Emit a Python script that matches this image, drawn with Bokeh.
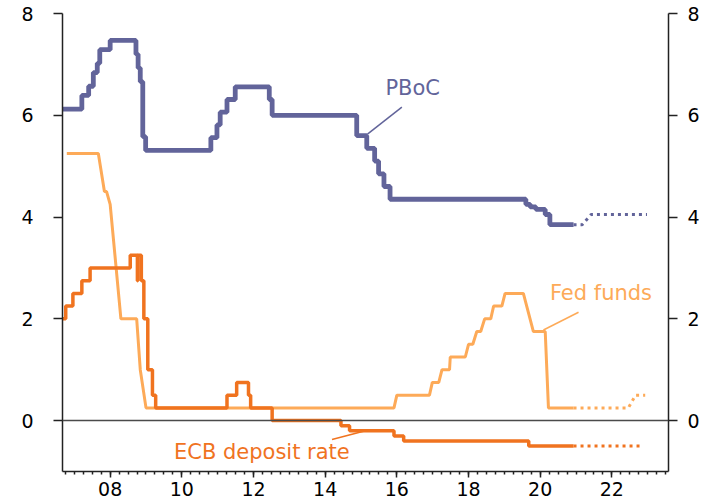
from bokeh.plotting import figure
from bokeh.models import Range1d, LinearAxis, FixedTicker, Span, Label
from bokeh.embed import file_html
from bokeh.resources import INLINE

# ---- data ----
pboc_x = [2006.67, 2007.21, 2007.40, 2007.53, 2007.64, 2007.71, 2008.00, 2008.72, 2008.78, 2008.84,
          2008.91, 2008.99, 2010.81, 2010.98, 2011.07, 2011.26, 2011.49, 2012.44, 2012.52, 2014.88,
          2015.16, 2015.38, 2015.49, 2015.64, 2015.81, 2019.60, 2019.72, 2019.88, 2020.14, 2020.27, 2020.93]
pboc_y = [6.12, 6.39, 6.57, 6.84, 7.02, 7.29, 7.47, 7.20, 6.93, 6.66,
          5.58, 5.31, 5.56, 5.81, 6.06, 6.31, 6.56, 6.31, 6.00, 5.60,
          5.35, 5.10, 4.85, 4.60, 4.35, 4.25, 4.20, 4.15, 4.05, 3.85, 3.85]
pboc_proj_x = [2020.93, 2021.17, 2021.42, 2022.98]
pboc_proj_y = [3.85, 3.85, 4.05, 4.05]

fed_x = [2006.79, 2007.67, 2007.84, 2007.90, 2008.00, 2008.30, 2008.74, 2008.84, 2009.00, 2015.92,
         2016.00, 2016.91, 2016.99, 2017.17, 2017.26, 2017.47, 2017.49, 2017.91, 2018.00, 2018.12,
         2018.23, 2018.34, 2018.45, 2018.62, 2018.70, 2018.93, 2019.02, 2019.53, 2019.81, 2020.14,
         2020.23, 2020.93]
fed_y = [5.25, 5.25, 4.50, 4.50, 4.25, 2.00, 2.00, 1.00, 0.25, 0.25,
         0.50, 0.50, 0.75, 0.75, 1.00, 1.00, 1.25, 1.25, 1.50, 1.50,
         1.75, 1.75, 2.00, 2.00, 2.25, 2.25, 2.50, 2.50, 1.75, 1.75,
         0.25, 0.25]
fed_proj_x = [2020.93, 2022.46, 2022.66, 2022.93]
fed_proj_y = [0.25, 0.25, 0.50, 0.50]

ecb_x = [2006.67, 2006.76, 2006.96, 2007.21, 2007.44, 2008.56, 2008.76, 2008.77, 2008.87, 2008.94,
         2009.05, 2009.18, 2009.27, 2011.26, 2011.53, 2011.86, 2011.92, 2012.52, 2014.44, 2014.68,
         2015.92, 2016.19, 2019.68, 2020.93]
ecb_y = [2.00, 2.25, 2.50, 2.75, 3.00, 3.25, 2.75, 3.25, 2.75, 2.00,
         1.00, 0.50, 0.25, 0.50, 0.75, 0.50, 0.25, 0.00, -0.10, -0.20,
         -0.30, -0.40, -0.50, -0.50]
ecb_proj_x = [2020.93, 2022.87]
ecb_proj_y = [-0.50, -0.50]

year_ticks = [2008, 2010, 2012, 2014, 2016, 2018, 2020, 2022]
year_labels = ["08", "10", "12", "14", "16", "18", "20", "22"]
y_ticks = [0, 2, 4, 6, 8]

# ---- styles ----
C_PBOC = "#62649A"
C_FED = "#FDAA58"
C_ECB = "#F0731F"
FONT = "DejaVu Sans"

p = figure(width=708, height=501, output_backend="svg", toolbar_location=None,
           x_range=Range1d(2006.67, 2023.58), y_range=Range1d(-1, 8),
           min_border_left=62, min_border_right=40, min_border_top=13, min_border_bottom=30)
p.outline_line_color = None
p.grid.visible = False
p.background_fill_color = "white"
p.border_fill_color = "white"

minor = [2006.75 + 0.25 * i for i in range(68) if 2006.75 + 0.25 * i < 2023.58]

xa = p.xaxis[0]
xa.ticker = FixedTicker(ticks=year_ticks, minor_ticks=minor)
xa.major_label_overrides = {t: l for t, l in zip(year_ticks, year_labels)}
xa.major_tick_in = 0
xa.major_tick_out = 6
xa.minor_tick_in = 0
xa.minor_tick_out = 3
xa.major_label_standoff = 4
xa.axis_line_color = "#222222"
xa.axis_line_width = 1.5
xa.major_tick_line_color = "#222222"
xa.major_tick_line_width = 1.5
xa.minor_tick_line_color = "#222222"
xa.minor_tick_line_width = 1.5
xa.major_label_text_font = FONT
xa.major_label_text_font_size = "19px"
xa.major_label_text_color = "black"

ya = p.yaxis[0]
ra = LinearAxis()
p.add_layout(ra, "right")
for ax, so in [(ya, 20), (ra, 10)]:
    ax.ticker = FixedTicker(ticks=y_ticks)
    ax.major_tick_in = 0
    ax.major_tick_out = 9
    ax.minor_tick_line_color = None
    ax.major_label_standoff = so
    ax.axis_line_color = "#222222"
    ax.axis_line_width = 1.5
    ax.major_tick_line_color = "#222222"
    ax.major_tick_line_width = 1.5
    ax.major_label_text_font = FONT
    ax.major_label_text_font_size = "19px"
    ax.major_label_text_color = "black"

p.add_layout(Span(location=0, dimension="width", line_color="#4a4a4a", line_width=1.5))

# series
p.line(fed_x, fed_y, line_color=C_FED, line_width=3)
p.step(ecb_x, ecb_y, mode="after", line_color=C_ECB, line_width=3.5)
p.step(pboc_x, pboc_y, mode="after", line_color=C_PBOC, line_width=4.8)

p.line(fed_proj_x, fed_proj_y, line_color=C_FED, line_width=3, line_dash="3 4")
p.line(ecb_proj_x, ecb_proj_y, line_color=C_ECB, line_width=3, line_dash="3 4")
p.line(pboc_proj_x, pboc_proj_y, line_color=C_PBOC, line_width=3, line_dash="3 4")

# annotations
def annotate(text, tx, ty, color, lx0, ly0, lx1, ly1):
    p.add_layout(Label(x=tx, y=ty, text=text, text_color=color, text_font=FONT,
                       text_font_size="21px", text_baseline="middle", text_align="left"))
    p.segment(x0=[lx0], y0=[ly0], x1=[lx1], y1=[ly1], line_color=color, line_width=1.5)

annotate("PBoC", 2015.68, 6.54, C_PBOC, 2016.14, 6.16, 2015.18, 5.63)
annotate("Fed funds", 2020.27, 2.51, C_FED, 2021.07, 2.13, 2020.09, 1.78)
annotate("ECB deposit rate", 2009.78, -0.61, C_ECB, 2014.19, -0.37, 2015.07, -0.21)

open("out.html", "w").write(file_html(p, INLINE))
